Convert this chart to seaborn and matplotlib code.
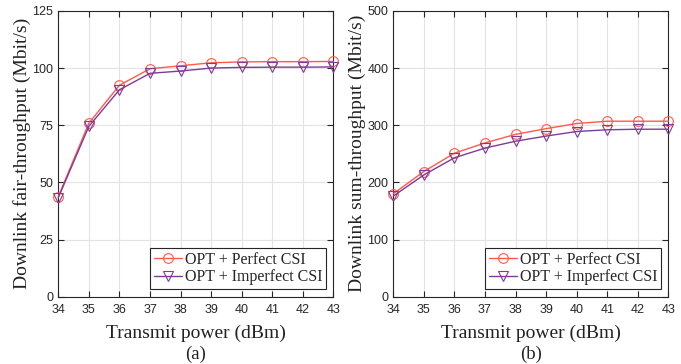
import numpy as np
import pandas as pd
import matplotlib
matplotlib.use("Agg")
import matplotlib.pyplot as plt
from matplotlib.lines import Line2D
import seaborn as sns

power = [34, 35, 36, 37, 38, 39, 40, 41, 42, 43]
fair_perfect = [43.8, 75.9, 92.5, 99.7, 101.0, 102.3, 102.7, 102.8, 102.8, 102.9]
fair_imperfect = [43.3, 74.5, 90.5, 97.7, 98.7, 100.0, 100.3, 100.4, 100.4, 100.5]
sum_perfect = [180, 219, 251, 269, 284, 294, 303, 307, 307, 307]
sum_imperfect = [176, 213, 243, 260, 272, 281, 289, 292, 293, 293]
labels = ["OPT + Perfect CSI", "OPT + Imperfect CSI"]

sns.set_theme(style="whitegrid")
plt.rcParams['font.family'] = ['Liberation Sans', 'DejaVu Sans']

colors = {labels[0]: "#ff5a4a", labels[1]: "#7e3b98"}
markers = {labels[0]: "o", labels[1]: "v"}

def make_df(a, b):
    return pd.DataFrame({
        "power": power * 2,
        "value": list(a) + list(b),
        "scheme": [labels[0]] * len(power) + [labels[1]] * len(power),
    })

fig = plt.figure(figsize=(6.81, 3.64), dpi=100)
ax1 = fig.add_axes([0.0856, 0.185, 0.404, 0.785])
ax2 = fig.add_axes([0.5775, 0.185, 0.404, 0.785])

panels = [
    (ax1, make_df(fair_perfect, fair_imperfect), "Downlink fair-throughput (Mbit/s)", (0, 125), [0, 25, 50, 75, 100, 125], "(a)"),
    (ax2, make_df(sum_perfect, sum_imperfect), "Downlink sum-throughput (Mbit/s)", (0, 500), [0, 100, 200, 300, 400, 500], "(b)"),
]

serif = ['Liberation Serif', 'DejaVu Serif']
for ax, df, ylab, ylim, yticks, tag in panels:
    sns.lineplot(data=df, x="power", y="value", hue="scheme", style="scheme",
                 palette=colors, markers=markers, dashes=False, ax=ax,
                 linewidth=1.0, markersize=7, legend=False)
    for line, lab in zip(ax.lines, labels):
        line.set_markeredgecolor(colors[lab])
        line.set_markerfacecolor("none")
        line.set_markeredgewidth(0.8)
        line.set_clip_on(False)
        line.set_zorder(5)
    ax.set_xlim(34, 43)
    ax.set_ylim(*ylim)
    ax.set_xticks(power)
    ax.set_yticks(yticks)
    ax.tick_params(direction="in", length=4, width=0.8, labelsize=9, colors="#262626",
                   top=True, right=True, bottom=True, left=True)
    ax.tick_params(axis="x", pad=5.5)
    ax.tick_params(axis="y", pad=3.5)
    ax.grid(True, color="#e3e3e3", linewidth=0.8)
    for s in ax.spines.values():
        s.set_color("#262626")
        s.set_linewidth(0.8)
    ax.set_xlabel("Transmit power (dBm)", fontsize=14, family=serif, labelpad=6, color="#222222")
    ax.set_ylabel(ylab, fontsize=14, family=serif, labelpad=1, color="#222222")
    handles = [Line2D([], [], color=colors[l], marker=markers[l], markersize=7,
                      markerfacecolor="none", markeredgecolor=colors[l],
                      markeredgewidth=0.8, linewidth=1.0) for l in labels]
    leg = ax.legend(handles, labels, loc="lower right", prop={'family': serif, 'size': 11.5},
                    frameon=True, fancybox=False, edgecolor="#262626", framealpha=1,
                    borderpad=0.25, handlelength=1.8, handletextpad=0.15,
                    labelspacing=0.12, borderaxespad=0.45)
    leg.get_frame().set_linewidth(0.8)
    leg.set_zorder(10)
    ax.text(0.5, -0.17, tag, transform=ax.transAxes, ha="center", va="top",
            fontsize=13.5, family=serif, color="#222222")

fig.savefig("out.png", dpi=100)
